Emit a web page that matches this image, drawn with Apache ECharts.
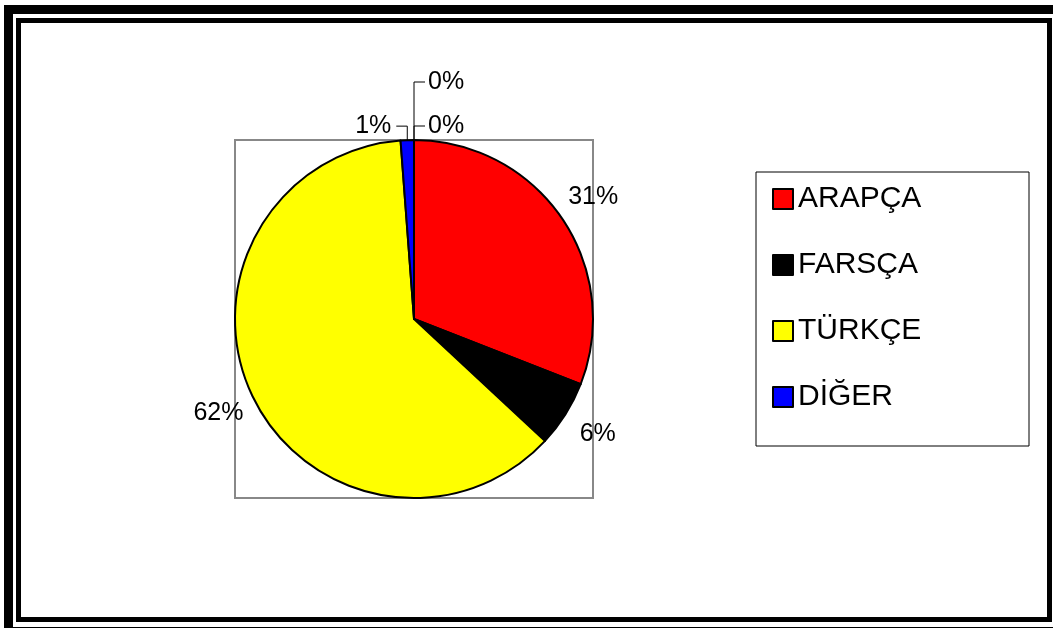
<!DOCTYPE html>
<html>
<head>
<meta charset="utf-8">
<script src="https://cdn.jsdelivr.net/npm/echarts@6/dist/echarts.min.js"></script>
<style>
  html, body { margin: 0; padding: 0; background: #fff; }
  #chart { width: 1053px; height: 628px; }
</style>
</head>
<body>
<div id="chart"></div>
<script>
// Chart data
var categories = ['ARAPÇA', 'FARSÇA', 'TÜRKÇE', 'DİĞER', 'BOŞ1', 'BOŞ2'];
var values = [31, 6, 62, 1.2, 0, 0];
var colors = ['#ff0000', '#000000', '#ffff00', '#0000ff', '#ff00ff', '#00ffff'];
var legendNames = categories.slice(0, 4);

// Geometry
var CX = 414, CY = 319, R = 179;
var LABEL_R = 217;

var total = values.reduce(function (a, b) { return a + b; }, 0);
var cum = [];
var run = 0;
values.forEach(function (v) { cum.push(run); run += v; });

var myChart = echarts.init(document.getElementById('chart'));

var pieData = categories.map(function (name, i) {
  var small = values[i] / total < 0.03;
  return {
    name: name,
    value: values[i],
    itemStyle: { color: colors[i] },
    labelLine: { show: small, lineStyle: { color: '#000', width: 1 } }
  };
});

var chartOptions = {
  animation: false,
  textStyle: { fontFamily: 'Liberation Sans, Arial, sans-serif' },
  legend: {
    orient: 'vertical',
    left: 767,
    top: 179,
    data: legendNames,
    itemWidth: 20,
    itemHeight: 20,
    itemGap: 36,
    itemTextGap: 11,
    icon: 'rect',
    selectedMode: false,
    textStyle: { fontSize: 30, lineHeight: 30, color: '#000' }
  },
  graphic: [
    // plot area
    {
      type: 'rect', z: -1, silent: true,
      shape: { x: CX - R, y: CY - R, width: 2 * R, height: 2 * R },
      style: { fill: null, stroke: '#888', lineWidth: 2 }
    },
    // legend box
    {
      type: 'rect', silent: true,
      shape: { x: 756, y: 172, width: 273, height: 274 },
      style: { fill: null, stroke: '#000', lineWidth: 1 }
    },
    // outer frame
    {
      type: 'rect', silent: true,
      shape: { x: 8.5, y: 9.5, width: 1052, height: 622 },
      style: { fill: null, stroke: '#000', lineWidth: 9 }
    },
    // inner frame
    {
      type: 'rect', silent: true,
      shape: { x: 18.5, y: 20.5, width: 1031, height: 599 },
      style: { fill: null, stroke: '#000', lineWidth: 5 }
    }
  ],
  series: [{
    type: 'pie',
    center: [CX, CY],
    radius: R,
    startAngle: 90,
    clockwise: true,
    avoidLabelOverlap: false,
    emphasis: { disabled: true },
    itemStyle: { borderColor: '#000', borderWidth: 2 },
    label: {
      show: true,
      position: 'outside',
      formatter: '{d}%',
      fontSize: 25,
      color: '#000'
    },
    percentPrecision: 0,
    data: pieData,
    labelLayout: function (params) {
      var i = params.dataIndex;
      var mid = (cum[i] + values[i] / 2) / total * 2 * Math.PI;
      var sx = Math.sin(mid), sy = -Math.cos(mid);
      if (values[i] / total >= 0.03) {
        return {
          x: CX + LABEL_R * sx,
          y: CY + LABEL_R * sy,
          align: 'center',
          verticalAlign: 'middle'
        };
      }
      // small slices: leader line up from the edge
      var ex = CX + R * sx, ey = CY + R * sy;
      if (values[i] > 0) {
        var ly = ey - 14;
        return {
          x: ex - 16, y: ly, align: 'right', verticalAlign: 'middle',
          labelLinePoints: [[ex, ey], [ex, ly], [ex - 11, ly]]
        };
      }
      var k = cum.slice(0, i).filter(function (c, j) { return values[j] === 0; }).length;
      var zy = ey - 14 - k * 44;
      return {
        x: ex + 14, y: zy, align: 'left', verticalAlign: 'middle',
        labelLinePoints: [[ex, ey], [ex, zy], [ex + 11, zy]]
      };
    }
  }]
};

myChart.setOption(chartOptions);
</script>
</body>
</html>
